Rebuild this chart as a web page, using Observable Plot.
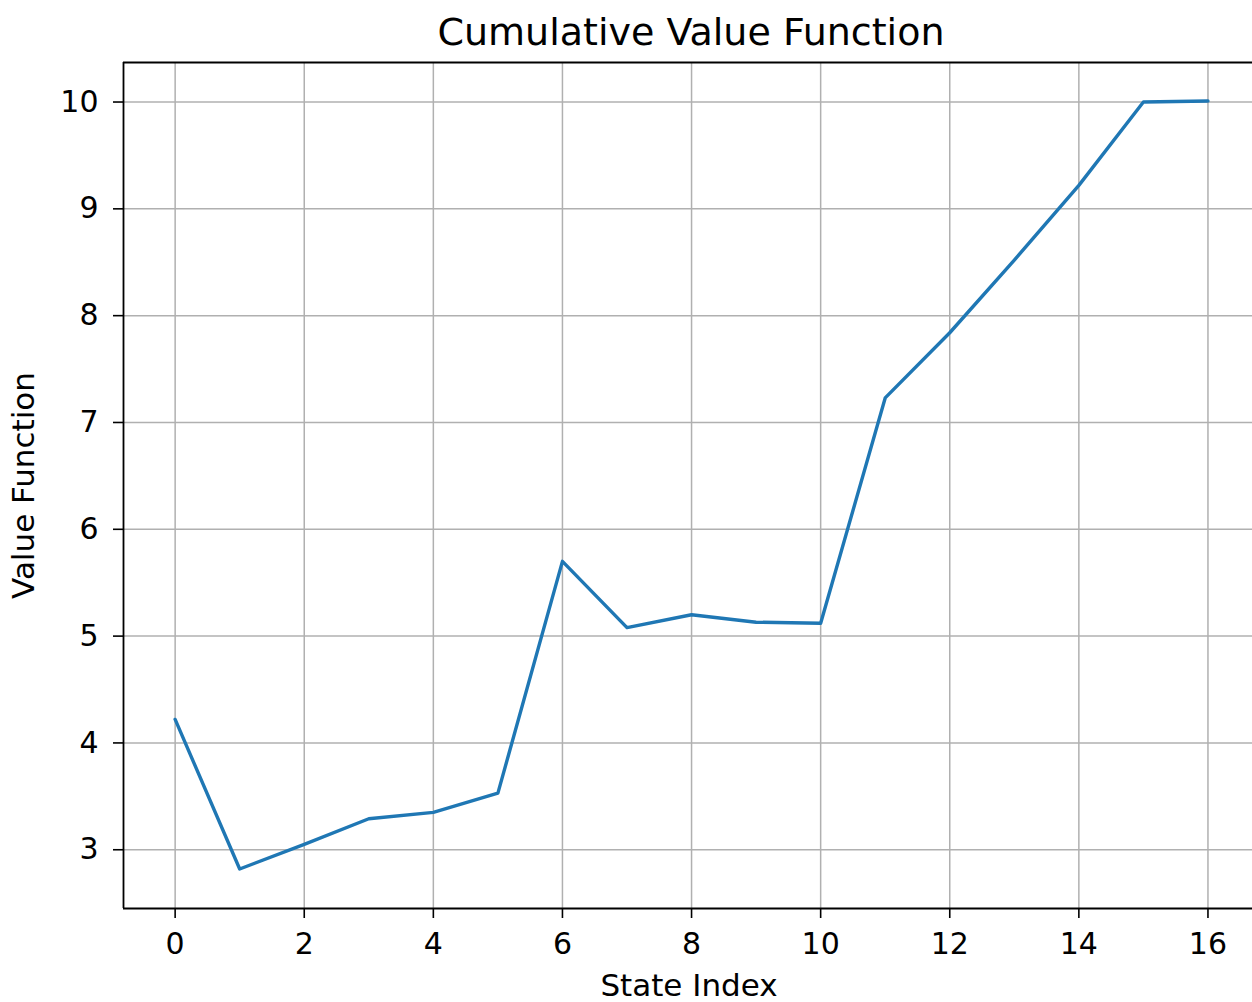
<!DOCTYPE html>
<html>
<head>
<meta charset="utf-8">
<script src="https://cdn.jsdelivr.net/npm/d3@7"></script>
<script src="https://cdn.jsdelivr.net/npm/@observablehq/plot@0.6"></script>
<style>
  html, body { margin: 0; padding: 0; background: #fff; }
</style>
</head>
<body>
<div id="chart"></div>
<script>
const states = [0, 1, 2, 3, 4, 5, 6, 7, 8, 9, 10, 11, 12, 13, 14, 15, 16];
const values = [4.22, 2.82, 3.05, 3.29, 3.35, 3.53, 5.70, 5.08, 5.20, 5.13, 5.12, 7.23, 7.84, 8.52, 9.22, 10.00, 10.01];
const xTicks = [0, 2, 4, 6, 8, 10, 12, 14, 16];
const yTicks = [3, 4, 5, 6, 7, 8, 9, 10];
const title = "Cumulative Value Function";
const xLabel = "State Index";
const yLabel = "Value Function";

const data = states.map((s, i) => ({state: s, value: values[i]}));
const xDomain = [-0.8, 16.69];
const yDomain = [2.45, 10.37];
const font = "DejaVu Sans, sans-serif";

const chart = Plot.plot({
  width: 1252,
  height: 1002,
  marginLeft: 123,
  marginRight: 0,
  marginTop: 62,
  marginBottom: 94,
  style: {fontFamily: font, fontSize: "30px", color: "#000", background: "#fff", overflow: "visible"},
  x: {domain: xDomain},
  y: {domain: yDomain},
  marks: [
    Plot.gridX(xTicks, {stroke: "#b0b0b0", strokeOpacity: 1, strokeWidth: 1.5}),
    Plot.gridY(yTicks, {stroke: "#b0b0b0", strokeOpacity: 1, strokeWidth: 1.5}),
    Plot.line(data, {x: "state", y: "value", stroke: "#1f77b4", strokeWidth: 3.4}),
    Plot.ruleX([xDomain[0]], {stroke: "#000", strokeWidth: 1.8}),
    Plot.ruleY([yDomain[0], yDomain[1]], {stroke: "#000", strokeWidth: 1.8}),
    Plot.axisX(xTicks, {tickSize: 10, tickPadding: 14, fontSize: 30, label: null, stroke: "#000", strokeWidth: 1.6, tickFormat: d => String(d)}),
    Plot.axisY(yTicks, {tickSize: 10, tickPadding: 15, fontSize: 30, label: null, stroke: "#000", strokeWidth: 1.6, tickFormat: d => String(d)}),
    Plot.text([title], {frameAnchor: "top", dy: -44, dx: 3, fontSize: 38, fill: "#000"}),
    Plot.text([xLabel], {frameAnchor: "bottom", dy: 87, dx: 1, fontSize: 31, fill: "#000"}),
    Plot.text([yLabel], {frameAnchor: "left", textAnchor: "middle", dx: -99, rotate: -90, fontSize: 31, fill: "#000"})
  ]
});
document.getElementById("chart").appendChild(chart);
</script>
</body>
</html>
